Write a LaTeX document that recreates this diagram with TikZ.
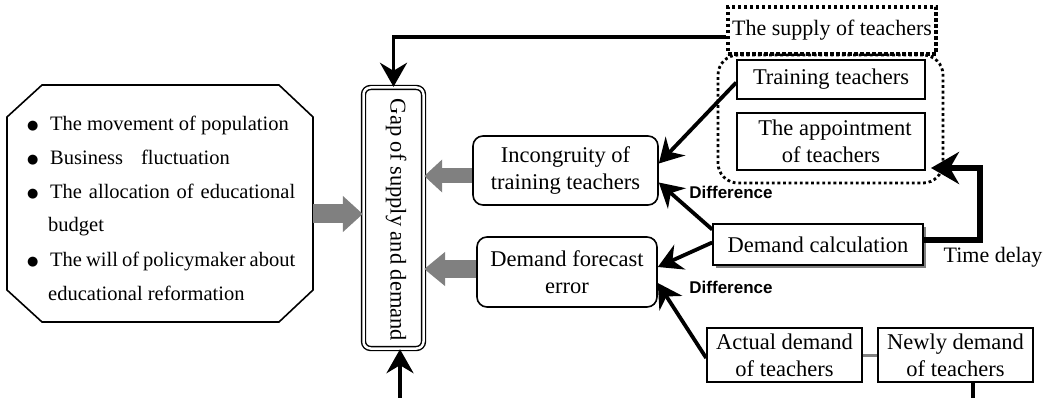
\documentclass[tikz,border=0pt]{standalone}
\usepackage{fontspec}
\setmainfont{Liberation Serif}
\newfontfamily\difffont{Liberation Sans}
\newfontfamily\symfont{DejaVu Sans}
\usetikzlibrary{arrows.meta,shadows}
\definecolor{garr}{HTML}{808080}
\begin{document}
\begin{tikzpicture}[x=1pt,y=-1pt,
  box/.style={draw, line width=1.6pt, inner sep=0pt, align=center,
    font=\fontsize{22.5}{27}\selectfont},
  rbox/.style={box, rounded corners=10pt},
  blt/.style={anchor=base west, inner sep=0pt, font=\fontsize{20.5}{24}\selectfont},
  conn/.style={line width=3.8pt, -{Stealth[length=24pt,width=27pt,inset=8pt]}},
  diff/.style={inner sep=0pt, font=\difffont\bfseries\fontsize{17}{20}\selectfont},
  dotbox/.style={draw, line width=3.5pt, dash pattern=on 3.5pt off 2.5pt, inner sep=0pt},
]
\useasboundingbox (0,0) rectangle (1047,398);

% left octagon
\draw[line width=1.6pt, line join=miter] (42,85) -- (279,85) -- (313,117) -- (313,290)
  -- (279,322) -- (42,322) -- (7,290) -- (7,117) -- cycle;
\coordinate (octe) at (313,214);
\newcommand{\bul}{\makebox[23pt][l]{\raisebox{1pt}{\symfont\fontsize{13}{13}\selectfont ●}}}
\node[blt] (l1) at (27,131) {\bul The movement of population};
\node[blt] (l2) at (27,165) {\bul Business\hspace{18pt}fluctuation};
\node[blt] (l3) at (27,199) {\bul\makebox[245pt][s]{The allocation of educational}};
\node[blt] (l4) at (48,232) {budget};
\node[blt] (l5) at (27,266) {\bul\makebox[245pt][s]{The will of policymaker about}};
\node[blt] (l6) at (48,300) {educational reformation};

% gap box
\node[draw, double, double distance=2.5pt, line width=1.4pt, rounded corners=7pt,
  minimum width=60pt, minimum height=261pt, inner sep=0pt] (gap) at (393.5,218) {};
\node[rotate=-90, inner sep=0pt, font=\fontsize{22.5}{27}\selectfont] (gapt) at (396,220) {Gap of supply and demand};

% middle boxes
\node[rbox, minimum width=185pt, minimum height=69pt] (incong) at (565.5,170.5)
  {Incongruity of\\training teachers};
\node[rbox, minimum width=180pt, minimum height=70pt] (forecast) at (567,272)
  {Demand forecast\\error};

% right side
\node[dotbox, minimum width=208pt, minimum height=47pt,
  font=\fontsize{22}{26}\selectfont] (supply) at (832,30.5) {The supply of teachers};
\node[draw, line width=2.8pt, dash pattern=on 2.8pt off 2.8pt, rounded corners=20pt,
  minimum width=225pt, minimum height=128pt, inner sep=0pt] (grp) at (830.5,119) {};
\node[box, minimum width=188pt, minimum height=39pt] (train) at (831,79.5) {Training teachers};
\node[box, minimum width=188pt, minimum height=57pt] (app) at (831,141.5) {\hspace{8pt}The appointment\\of teachers};
\node[box, fill=white, minimum width=210pt, minimum height=41pt,
  drop shadow={shadow xshift=3pt, shadow yshift=-3pt, fill=gray, opacity=1}] (calc) at (818,244.5) {Demand calculation};
\node[box, minimum width=155pt, minimum height=54pt] (actual) at (784.5,355)
  {Actual demand\\of teachers};
\node[box, minimum width=155pt, minimum height=54pt] (newly) at (955.5,355)
  {Newly demand\\of teachers};

% labels
\node[diff] (d1) at (731,192) {Difference};
\node[diff] (d2) at (731,287) {Difference};
\node[inner sep=0pt, font=\fontsize{22}{26}\selectfont] (tdl) at (993,257) {Time delay};

% gray arrows
\draw[garr, line width=19pt, -{Triangle[length=20pt,width=35pt]}] (octe) -- (gap.west |- octe);
\draw[garr, line width=15pt, -{Triangle[length=18pt,width=32pt]}] (incong.west |- 0,176) -- (gap.east |- 0,176);
\draw[garr, line width=18pt, -{Triangle[length=21pt,width=33pt]}] (forecast.west |- 0,269) -- (gap.east |- 0,269);

% black connectors
\draw[conn, line join=miter] (supply.west |- 0,37) -| (gap.north);
\coordinate (bot) at (400,398);
\draw[conn] (bot) -- (bot |- gap.south);
\draw[conn] ([yshift=-3pt]train.west) -- ([yshift=7pt]incong.east);
\draw[conn] ([yshift=15pt]calc.west) -- ([yshift=-12pt]incong.east);
\draw[conn] ([yshift=2pt]calc.west) -- ([yshift=5pt]forecast.east);
\draw[conn] ([yshift=-3pt]actual.west) -- ([yshift=-11pt]forecast.east);

% time delay
\coordinate (td) at (931,168);
\draw[line width=6pt, line join=miter, -{Stealth[length=28pt,width=32pt,inset=9pt]}]
  ([yshift=4pt]calc.east) -| (980,168) -- (td);

% bottom links
\draw[garr, line width=3pt] (actual.east) -- (newly.west);
\coordinate (nb) at (973,398);
\draw[line width=4pt] (newly.south -| nb) -- (nb);
\end{tikzpicture}
\end{document}
